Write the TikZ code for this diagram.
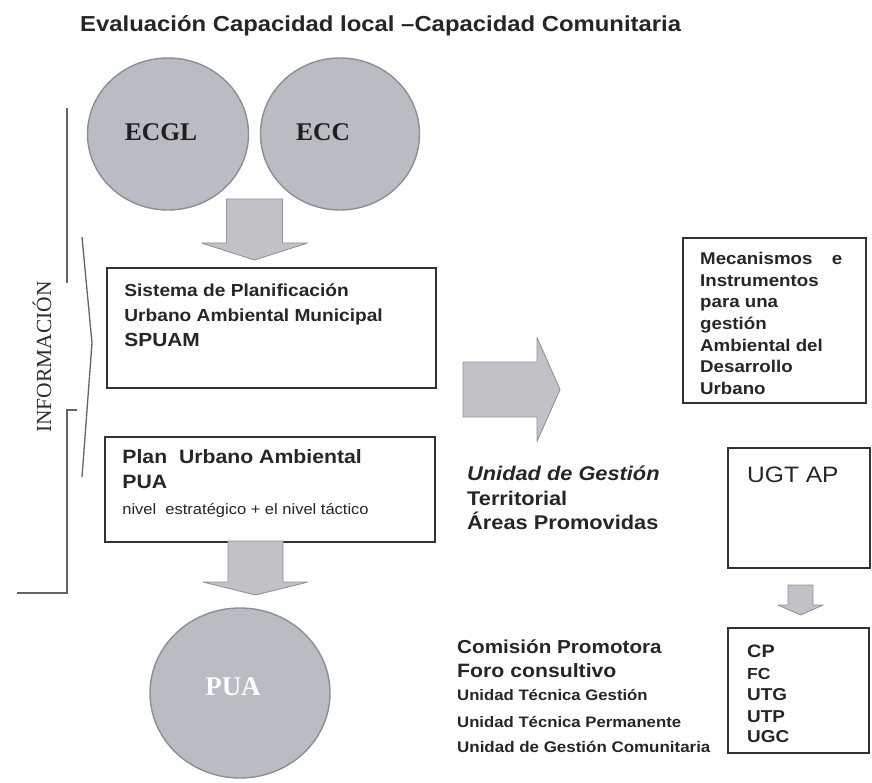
\documentclass[tikz,border=0pt]{standalone}
\usepackage{fontspec}
\setmainfont{Liberation Serif}
\setsansfont{Liberation Sans}[FakeStretch=1.1]
\usepackage{tikz}
\usetikzlibrary{shapes.geometric,arrows.meta,positioning,calc}
\definecolor{discgray}{RGB}{186,188,196}
\definecolor{discedge}{RGB}{140,142,150}
\definecolor{arrgray}{RGB}{192,194,200}
\definecolor{arredge}{RGB}{145,147,153}
\definecolor{boxline}{RGB}{50,50,50}
\definecolor{textgray}{RGB}{38,38,42}
\definecolor{brkgray}{RGB}{100,100,104}

\begin{document}
\begin{tikzpicture}[
    x=1pt, y=-1pt,
    disc/.style={ellipse, fill=discgray, draw=discedge, line width=1.4pt, inner sep=0pt},
    disctext/.style={font=\rmfamily\bfseries\fontsize{#1}{#1}\selectfont, inner sep=0pt},
    box/.style={draw=boxline, line width=1.6pt, fill=white, inner sep=0pt},
    txt/.style={anchor=base west, inner sep=0pt, text=textgray, font=\sffamily\bfseries\fontsize{#1}{#1}\selectfont},
    blockarr/.style={fill=arrgray, draw=arredge, line width=0.9pt, line join=round},
    downblock/.style n args={3}{to path={let \p1=(\tikztostart), \p2=(\tikztotarget) in
      (\x1-#1,\y1) -- (\x1+#1,\y1) -- (\x1+#1,\y2+#3) -- (\x1+#2,\y2+#3) -- (\x1,\y2)
      -- (\x1-#2,\y2+#3) -- (\x1-#1,\y2+#3) -- cycle}},
    rightblock/.style n args={3}{to path={let \p1=(\tikztostart), \p2=(\tikztotarget) in
      (\x1,\y1+#1) -- (\x2-#3,\y1+#1) -- (\x2-#3,\y1+#2) -- (\x2,\y1)
      -- (\x2-#3,\y1-#2) -- (\x2-#3,\y1-#1) -- (\x1,\y1-#1) -- cycle}},
    brk/.style={draw=brkgray, line width=2.4pt},
    angl/.style={draw=brkgray, line width=1.3pt, line join=miter}
]
\useasboundingbox (0,0) rectangle (872,783);

\node[txt=21.7, text=black!85] (title) at (80,32) {Evaluación Capacidad local –Capacidad Comunitaria};

\node[disc, minimum width=161pt, minimum height=152pt] (ecgl) at (168,134) {};
\node[disc, minimum width=159pt, minimum height=152pt] (ecc) at (340,134) {};
\node[disc, minimum width=180pt, minimum height=170pt] (puadisc) at (240,693) {};
\node[disctext=25.5, text=black!88] (ecgltext) at (161,132) {ECGL};
\node[disctext=25.5, text=black!88] (ecctext) at (323,132) {ECC};
\node[disctext=27, text=white] (puatext) at (233,687) {PUA};

\node[box, minimum width=329pt, minimum height=120pt] (spuam) at (271.5,328) {};
\node[box, minimum width=330pt, minimum height=105pt] (puabox) at (270,489.5) {};
\node[box, minimum width=183pt, minimum height=165pt] (mec) at (774.5,320.5) {};
\node[box, minimum width=142pt, minimum height=120pt] (ugt) at (799,508) {};
\node[box, minimum width=141pt, minimum height=125pt] (cpbox) at (798.5,690.5) {};

\node[txt=17.4] (sp1) at ([shift={(18,29)}]spuam.north west) {Sistema de Planificación};
\node[txt=17.4] (sp2) at ([shift={(18,54)}]spuam.north west) {Urbano Ambiental Municipal};
\node[txt=19] (sp3) at ([shift={(18,79)}]spuam.north west) {SPUAM};

\node[txt=19.3] (pu1) at ([shift={(18,27)}]puabox.north west) {Plan\ \ Urbano Ambiental};
\node[txt=19.3] (pu2) at ([shift={(18,52)}]puabox.north west) {PUA};
\node[txt=15, font=\sffamily\fontsize{15}{15}\selectfont] (pu3) at ([shift={(18,78)}]puabox.north west) {nivel\ \ estratégico + el nivel táctico};

\foreach \t [count=\i from 0] in {{\hbox to 142pt{Mecanismos\hfil e}}, Instrumentos, para una, gestión, Ambiental del, Desarrollo, Urbano}
  \node[txt=17] (mec\i) at (700,265+21.5*\i) {\t};

\node[txt=19.8] (ug1) at (467,480) {\itshape Unidad de Gestión};
\node[txt=19.8] (ug2) at (467,505) {Territorial};
\node[txt=19.8] (ug3) at (467,529) {Áreas Promovidas};

\node[txt=22.3, font=\sffamily\fontsize{22.3}{22.3}\selectfont] (ugttext) at (747,482) {UGT AP};

\foreach \t/\s/\y [count=\i] in {CP/18/657, FC/16/679, UTG/17.2/700, UTP/17.2/722, UGC/17.2/742}
  \node[txt=\s] (cp\i) at (747,\y) {\t};

\foreach \t/\s/\y [count=\i] in {Comisión Promotora/18.8/653, Foro consultivo/19.3/677, Unidad Técnica Gestión/15.2/700, Unidad Técnica Permanente/15.2/727, Unidad de Gestión Comunitaria/15.4/752}
  \node[txt=\s] (org\i) at (457,\y) {\t};

\node[rotate=90, inner sep=0pt, text=black!82, font=\rmfamily\fontsize{21.5}{21.5}\selectfont] (info) at (42,357) {INFORMACIÓN};

\coordinate (a1s) at (254.5,199);
\coordinate (a1e) at (254.5,260);
\coordinate (a2s) at (255.5,541);
\coordinate (a2e) at (255.5,595);
\coordinate (a3s) at (463,389.5);
\coordinate (a3e) at (560,389.5);
\coordinate (a4s) at (800.5,585);
\coordinate (a4e) at (800.5,615);

\draw[blockarr, downblock={28pt}{53pt}{17pt}] (a1s) to (a1e);
\draw[blockarr, downblock={27.5pt}{52.5pt}{13pt}] (a2s) to (a2e);
\draw[blockarr, rightblock={27.5pt}{52pt}{23pt}] (a3s) to (a3e);
\draw[blockarr, downblock={12.5pt}{22.5pt}{10pt}] (a4s) to (a4e);

\draw[brk] (67,108) -- (67,283);
\draw[brk] (77,410) -- (67,410) -- (67,593) -- (17,593);
\draw[angl] (82,237) -- (92,343) -- (82,477);
\end{tikzpicture}
\end{document}
